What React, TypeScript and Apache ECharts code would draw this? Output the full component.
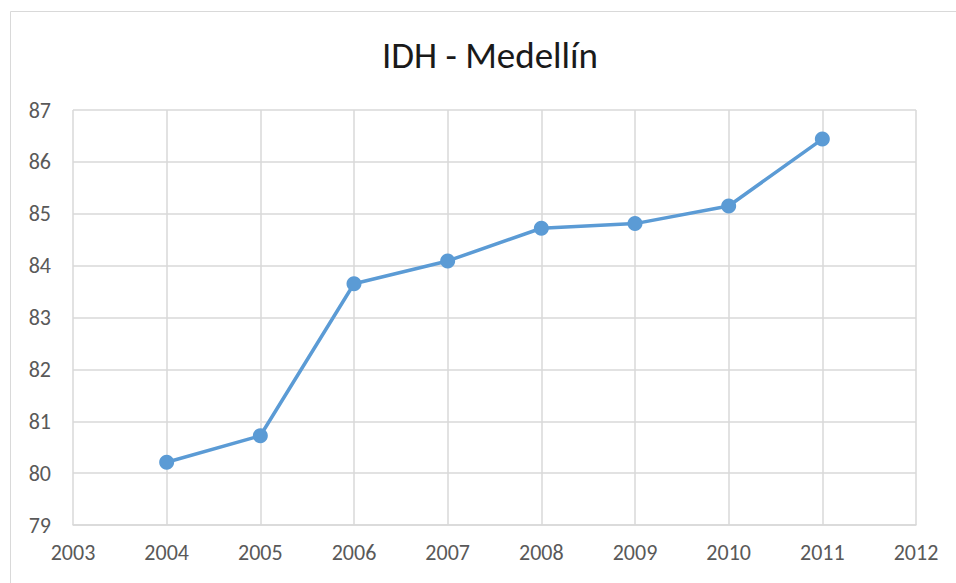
import React, { useEffect, useRef } from "react";
import * as echarts from "echarts";

const years = [2004, 2005, 2006, 2007, 2008, 2009, 2010, 2011];
const idh = [80.21, 80.72, 83.65, 84.09, 84.72, 84.81, 85.15, 86.44];
const title = "IDH - Medellín";

export default function App() {
  const ref = useRef<HTMLDivElement>(null);
  useEffect(() => {
    if (!ref.current) return;
    const chart = echarts.init(ref.current, null, { renderer: "svg" });
    const font = "Carlito, 'Liberation Sans Narrow', Lato, 'Open Sans', sans-serif";
    chart.setOption({
      animation: false,
      backgroundColor: "#ffffff",
      title: {
        text: title,
        left: 377,
        top: 32,
        textStyle: { fontFamily: font, fontSize: 37, fontWeight: "normal", color: "#1a1a1a" },
      },
      graphic: [
        {
          type: "rect",
          shape: { x: 10.5, y: 11.5, width: 980, height: 620 },
          style: { fill: "none", stroke: "#d9d9d9", lineWidth: 1 },
          silent: true,
        },
      ],
      grid: { left: 73, right: 40, top: 110, bottom: 58 },
      xAxis: {
        type: "value",
        min: 2003,
        max: 2012,
        interval: 1,
        axisLine: { show: true, lineStyle: { color: "#d9d9d9", width: 1.5 } },
        axisTick: { show: false },
        splitLine: { show: true, lineStyle: { color: "#d9d9d9", width: 1.5 } },
        axisLabel: {
          color: "#595959",
          fontSize: 22,
          fontFamily: font,
          margin: 16,
          formatter: (v: number) => String(v),
        },
      },
      yAxis: {
        type: "value",
        min: 79,
        max: 87,
        interval: 1,
        axisLine: { show: false },
        axisTick: { show: false },
        splitLine: { show: true, lineStyle: { color: "#d9d9d9", width: 1.5 } },
        axisLabel: { color: "#595959", fontSize: 22, fontFamily: font, margin: 22 },
      },
      series: [
        {
          type: "line",
          data: years.map((y, i) => [y, idh[i]]),
          symbol: "circle",
          symbolSize: 15,
          itemStyle: { color: "#5b9bd5" },
          lineStyle: { color: "#5b9bd5", width: 3.5 },
        },
      ],
    });
    return () => chart.dispose();
  }, []);
  return (
    <div
      ref={ref}
      style={{ position: "fixed", left: 0, top: 0, width: 956, height: 583 }}
    />
  );
}
